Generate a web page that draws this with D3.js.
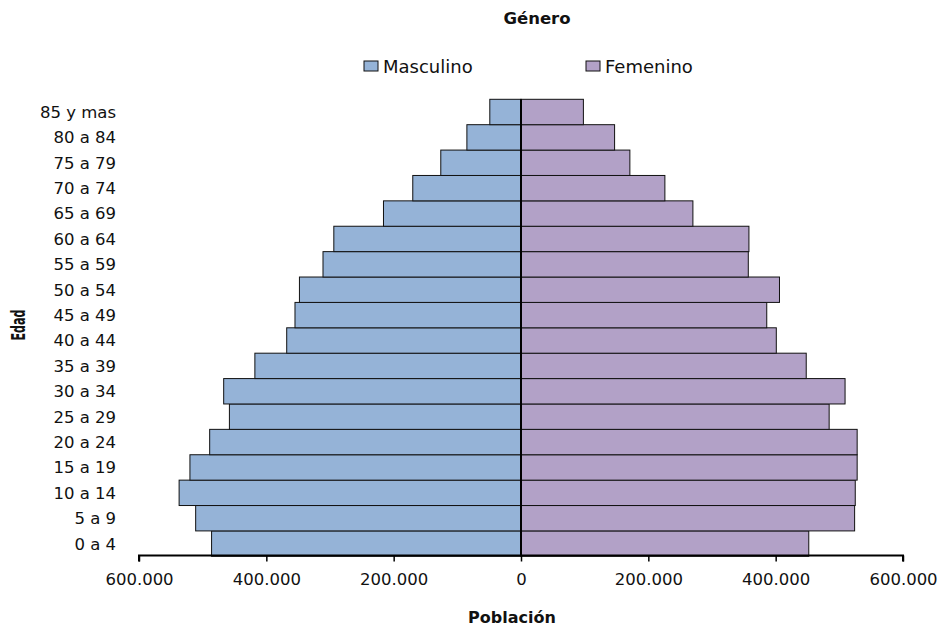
<!DOCTYPE html>
<html>
<head>
<meta charset="utf-8">
<script src="https://cdn.jsdelivr.net/npm/d3@7"></script>
<style>
  body { margin: 0; background: #fff; }
  svg { display: block; font-family: "DejaVu Sans", Verdana, sans-serif; }
</style>
</head>
<body>
<svg id="chart" width="945" height="628"></svg>
<script>
const ageGroups = ["0 a 4", "5 a 9", "10 a 14", "15 a 19", "20 a 24", "25 a 29", "30 a 34",
  "35 a 39", "40 a 44", "45 a 49", "50 a 54", "55 a 59", "60 a 64", "65 a 69",
  "70 a 74", "75 a 79", "80 a 84", "85 y mas"];
const masculino = [486000, 511000, 537000, 520000, 489000, 458000, 467000, 418000, 368000,
  355000, 348000, 311000, 294000, 216000, 170000, 126000, 85000, 49000];
const femenino = [452000, 524000, 525000, 528000, 528000, 484000, 509000, 448000, 401000,
  386000, 406000, 357000, 358000, 270000, 226000, 171000, 147000, 98000];
const xTicks = [-600000, -400000, -200000, 0, 200000, 400000, 600000];
const seriesNames = ["Masculino", "Femenino"];
const seriesColors = ["#95b3d7", "#b2a1c7"];

const svg = d3.select("#chart");

const x = d3.scaleLinear().domain([-600000, 600000]).range([139, 903]);
const y = d3.scaleBand()
  .domain(ageGroups.slice().reverse())
  .range([99.3, 556.3])
  .padding(0);

const locale = d3.formatLocale({ decimal: ",", thousands: ".", grouping: [3], currency: ["", ""] });
const fmt = locale.format(",");

const rows = ageGroups.map((g, i) => ({ g, m: masculino[i], f: femenino[i] }));

// bars
svg.append("g").selectAll("rect")
  .data(rows)
  .enter()
  .append("rect")
  .attr("x", d => x(-d.m))
  .attr("y", d => y(d.g))
  .attr("width", d => x(0) - x(-d.m))
  .attr("height", y.bandwidth())
  .attr("fill", seriesColors[0])
  .attr("stroke", "#111")
  .attr("stroke-width", 1);

svg.append("g").selectAll("rect")
  .data(rows)
  .enter()
  .append("rect")
  .attr("x", x(0))
  .attr("y", d => y(d.g))
  .attr("width", d => x(d.f) - x(0))
  .attr("height", y.bandwidth())
  .attr("fill", seriesColors[1])
  .attr("stroke", "#111")
  .attr("stroke-width", 1);

// center line
svg.append("line")
  .attr("x1", x(0)).attr("x2", x(0))
  .attr("y1", 99.3).attr("y2", 556.3)
  .attr("stroke", "#000")
  .attr("stroke-width", 2);

// x axis
const xAxis = svg.append("g")
  .attr("transform", "translate(0,555.5)")
  .call(d3.axisBottom(x).tickValues(xTicks).tickSize(6).tickPadding(12)
    .tickFormat(d => fmt(Math.abs(d))));
xAxis.select(".domain").attr("stroke", "#000").attr("stroke-width", 2)
  .attr("d", `M${x(-600000)},6V0H${x(600000)}V6`);
xAxis.selectAll(".tick line").attr("stroke", "#000").attr("stroke-width", 1.5);
xAxis.selectAll(".tick text")
  .attr("font-family", "DejaVu Sans, Verdana, sans-serif")
  .attr("font-size", "16.5px")
  .attr("fill", "#111");

// y labels
svg.append("g").selectAll("text")
  .data(ageGroups)
  .enter()
  .append("text")
  .attr("x", 116)
  .attr("y", d => y(d) + y.bandwidth() / 2)
  .attr("dy", "0.36em")
  .attr("text-anchor", "end")
  .attr("font-size", "16.5px")
  .attr("fill", "#111")
  .text(d => d);

// title
svg.append("text")
  .attr("x", 537).attr("y", 24)
  .attr("text-anchor", "middle")
  .attr("font-size", "16.5px")
  .attr("font-weight", "bold")
  .attr("fill", "#111")
  .text("Género");

// legend
const legendX = [364, 586];
seriesNames.forEach((name, i) => {
  svg.append("rect")
    .attr("x", legendX[i]).attr("y", 61)
    .attr("width", 14).attr("height", 10)
    .attr("fill", seriesColors[i])
    .attr("stroke", "#111")
    .attr("stroke-width", 1);
  svg.append("text")
    .attr("x", legendX[i] + 19).attr("y", 72.5)
    .attr("font-size", "18px")
    .attr("fill", "#111")
    .text(name);
});

// axis titles
svg.append("text")
  .attr("x", 512).attr("y", 623)
  .attr("text-anchor", "middle")
  .attr("font-size", "16px")
  .attr("font-weight", "bold")
  .attr("fill", "#111")
  .text("Población");

svg.append("text")
  .attr("transform", "translate(25,325) rotate(-90)")
  .attr("text-anchor", "middle")
  .attr("font-size", "19px")
  .attr("font-weight", "bold")
  .attr("fill", "#111")
  .attr("textLength", 31)
  .attr("lengthAdjust", "spacingAndGlyphs")
  .text("Edad");
</script>
</body>
</html>
